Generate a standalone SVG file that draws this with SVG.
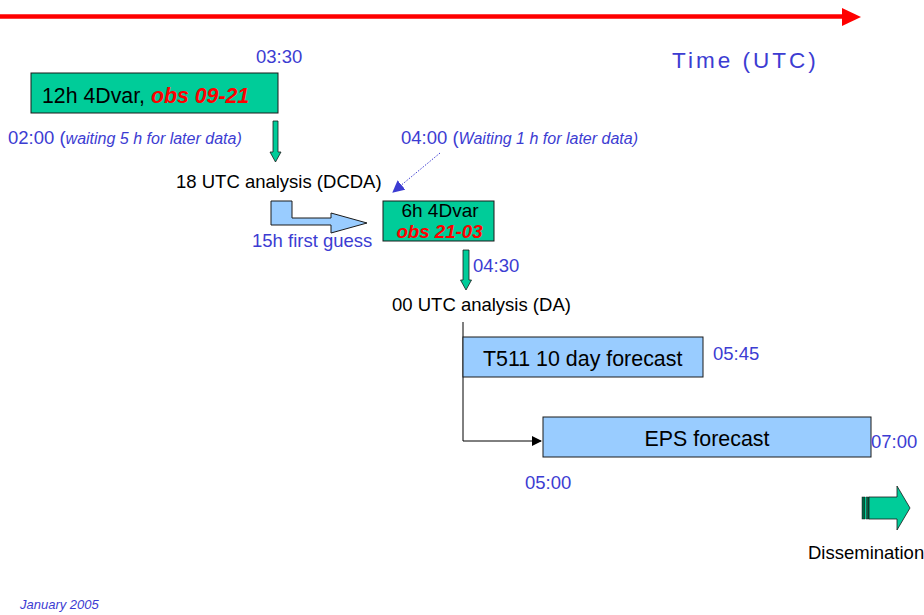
<svg xmlns="http://www.w3.org/2000/svg" width="924" height="615" viewBox="0 0 924 615">
<defs>
<style>
text{font-family:"Liberation Sans",Arial,sans-serif;}
.blue{fill:#3c3cd2;}
.blk{fill:#000;}
.t18{font-size:18.5px;}
.it{font-style:italic;}
.obs{fill:#ff0000;font-weight:bold;font-style:italic;}
.green{fill:#00cc99;stroke:#1a1a1a;stroke-width:1;}
.lblue{fill:#99ccff;stroke:#1a1a1a;stroke-width:1;}
.garrow{fill:#00cc99;stroke:#1a1a1a;stroke-width:0.8;}
</style>
<marker id="blkhead" markerWidth="10" markerHeight="10" refX="9" refY="5" orient="auto" markerUnits="userSpaceOnUse">
<path d="M0,0 L10,5 L0,10 Z" fill="#000"/>
</marker>
<marker id="bluehead" markerWidth="12" markerHeight="12" refX="11" refY="6" orient="auto" markerUnits="userSpaceOnUse">
<path d="M0,0 L12,6 L0,12 Z" fill="#3c3cd2"/>
</marker>
</defs>
<rect x="0" y="0" width="924" height="615" fill="#ffffff"/>

<g id="timeline">
<line x1="0" y1="16.5" x2="845" y2="16.5" stroke="#ff0000" stroke-width="4.5"/>
<polygon points="842,8 861,17 842,26" fill="#ff0000"/>
<text x="672" y="68" class="blue" font-size="22.5" letter-spacing="3">Time (UTC)</text>
</g>

<g id="connectors">
<g id="arrow-12h-to-18utc">
<polygon class="garrow" points="273,121 278,121 278,152 281,152 275.5,162 270,152 273,152"/>
</g>
<g id="arrow-6h-to-00utc">
<polygon class="garrow" points="463,250 469,250 469,280 471.5,280 466,290 460.5,280 463,280"/>
</g>
<line id="dotted-0400" x1="440" y1="153" x2="393" y2="192" stroke="#3c3cd2" stroke-width="1" stroke-dasharray="1.5,1.5" marker-end="url(#bluehead)"/>
<g id="first-guess-arrow">
<polygon class="lblue" points="271,201 292,201 292,218 331,218 331,213 367,223 331,233 331,225 271,225"/>
</g>
<polyline id="da-to-eps" points="463,322 463,441 541,441" fill="none" stroke="#000" stroke-width="1" marker-end="url(#blkhead)"/>
</g>

<g id="node-12h-4dvar">
<rect class="green" x="31" y="73" width="247" height="40"/>
<text x="42" y="103" font-size="21.3" class="blk">12h 4Dvar, <tspan class="obs">obs 09-21</tspan></text>
</g>
<text x="256" y="63" class="blue t18">03:30</text>
<text x="8" y="144" class="blue t18">02:00 (<tspan class="it" font-size="16">waiting 5 h for later data)</tspan></text>

<g id="node-18utc">
<text x="176" y="188" class="blk t18">18 UTC analysis (DCDA)</text>
</g>
<text x="401" y="144" class="blue t18">04:00 (<tspan class="it" font-size="16">Waiting 1 h for later data)</tspan></text>
<text x="252" y="247" class="blue t18">15h first guess</text>

<g id="node-6h-4dvar">
<rect class="green" x="383" y="201" width="111" height="40"/>
<text x="440" y="217" font-size="19" text-anchor="middle" class="blk">6h 4Dvar</text>
<text x="439.5" y="238" font-size="18.7" text-anchor="middle" class="obs">obs 21-03</text>
</g>
<text x="473" y="272" class="blue t18">04:30</text>

<g id="node-00utc">
<text x="392" y="311" class="blk t18">00 UTC analysis (DA)</text>
</g>

<g id="node-t511">
<rect class="lblue" x="463" y="337" width="240" height="40"/>
<text x="483" y="366" font-size="21.4" class="blk">T511 10 day forecast</text>
</g>
<text x="713" y="360" class="blue t18">05:45</text>

<g id="node-eps">
<rect class="lblue" x="543" y="417" width="328" height="40"/>
<text x="707" y="446" font-size="21.4" text-anchor="middle" class="blk">EPS forecast</text>
</g>
<text x="871" y="448" class="blue t18">07:00</text>
<text x="525" y="489" class="blue t18">05:00</text>

<g id="node-dissemination">
<rect x="862" y="497" width="3" height="22" fill="#006644" stroke="#1a1a1a" stroke-width="0.5"/>
<rect x="865" y="497" width="1.5" height="22" fill="#00cc99"/>
<rect x="866.5" y="497" width="2.5" height="22" fill="#006644" stroke="#1a1a1a" stroke-width="0.5"/>
<polygon class="garrow" points="869,497 897,497 897,486 910,508 897,530 897,519 869,519"/>
<text x="808" y="559" class="blk t18">Dissemination</text>
</g>

<text x="20" y="609" class="blue it" font-size="13">January 2005</text>
</svg>
